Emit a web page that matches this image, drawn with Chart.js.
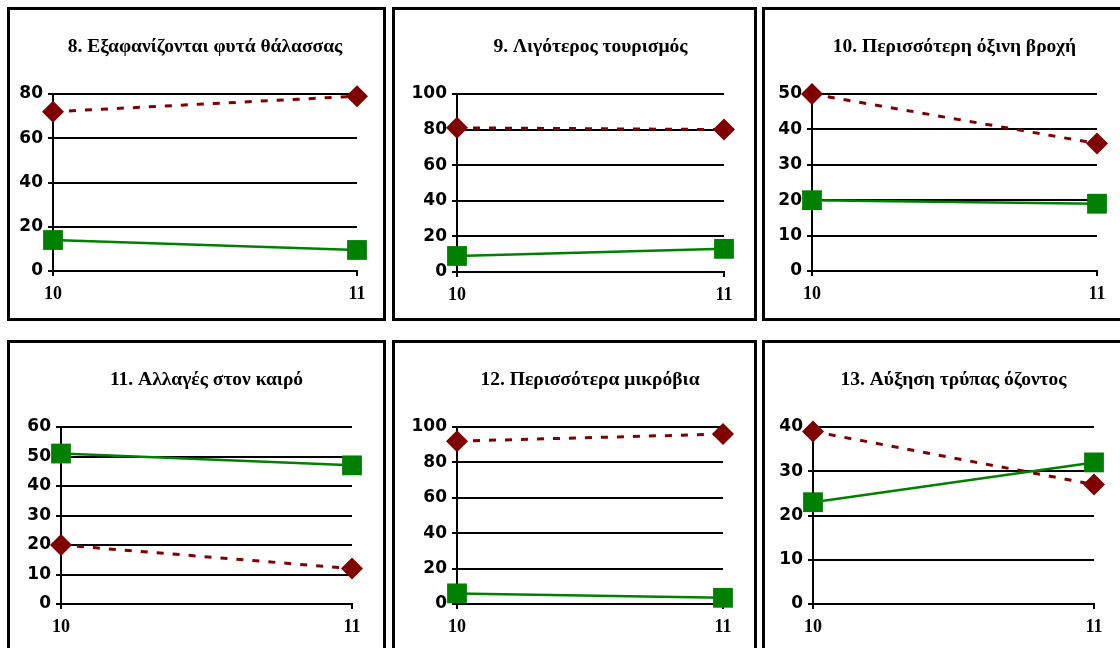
<!DOCTYPE html>
<html lang="el">

<head>
    <meta charset="UTF-8">
    <title>Περιβαλλοντικά προβλήματα</title>
    <script src="https://cdn.jsdelivr.net/npm/chart.js"></script>
    <style>
        html, body {
            margin: 0;
            padding: 0;
            background: #fff;
            width: 1120px;
            height: 648px;
            overflow: hidden;
        }

        .panel {
            position: absolute;
            box-sizing: border-box;
            border: 3px solid #000;
            background: #fff;
        }

        .panel canvas {
            position: absolute;
            left: 0;
            top: 0;
        }
    </style>
</head>

<body>
    <div id="charts"></div>
    <script>
        // categories on the x axis
        const categories = ['10', '11'];

        const titles = [
            '8. Εξαφανίζονται φυτά θάλασσας',
            '9. Λιγότερος τουρισμός',
            '10. Περισσότερη όξινη βροχή',
            '11. Αλλαγές στον καιρό',
            '12. Περισσότερα μικρόβια',
            '13. Αύξηση τρύπας όζοντος'
        ];

        // dashed red diamonds
        const redSeries = [
            [72, 79],
            [81, 80],
            [50, 36],
            [20, 12],
            [92, 96],
            [39, 27]
        ];

        // solid green squares
        const greenSeries = [
            [14, 9.5],
            [9, 13],
            [20, 19],
            [51, 47],
            [6, 3.5],
            [23, 32]
        ];

        // y axis ticks
        const yMax = [80, 100, 50, 60, 100, 40];
        const yStep = [20, 20, 10, 10, 20, 10];

        // page layout: panel box, plot area edges, title centre
        const panels = [
            { box: [7, 7, 386, 321], axisX: 53, rightX: 357, top: 94, bottom: 271, titleY: 47 },
            { box: [392, 7, 757, 321], axisX: 457, rightX: 724, top: 94, bottom: 272, titleY: 47 },
            { box: [762, 7, 1126, 321], axisX: 812, rightX: 1097, top: 94, bottom: 271, titleY: 47 },
            { box: [7, 340, 386, 656], axisX: 61, rightX: 352, top: 427, bottom: 604, titleY: 380 },
            { box: [392, 340, 757, 656], axisX: 457, rightX: 723, top: 427, bottom: 604, titleY: 380 },
            { box: [762, 340, 1126, 656], axisX: 813, rightX: 1094, top: 427, bottom: 604, titleY: 380 }
        ];

        const BORDER = 3;
        const PAD_LEFT = 2;
        const X_AXIS_H = 40;
        const TITLE_SIZE = 19.5;
        const TITLE_LH = TITLE_SIZE * 1.2;

        const red = '#800000';
        const green = '#008000';

        const holder = document.getElementById('charts');

        panels.forEach((p, i) => {
            const [l, t, r, b] = p.box;
            const div = document.createElement('div');
            div.className = 'panel';
            div.style.left = l + 'px';
            div.style.top = t + 'px';
            div.style.width = (r - l) + 'px';
            div.style.height = (b - t) + 'px';
            const canvas = document.createElement('canvas');
            const cw = r - l - 2 * BORDER;
            const ch = b - t - 2 * BORDER;
            canvas.width = cw;
            canvas.height = ch;
            canvas.style.width = cw + 'px';
            canvas.style.height = ch + 'px';
            div.appendChild(canvas);
            holder.appendChild(div);

            const cx = l + BORDER;
            const cy = t + BORDER;
            const yAxisW = p.axisX - cx - PAD_LEFT;
            const padTop = p.titleY - cy - TITLE_LH / 2;
            const titleGap = p.top - (cy + padTop + TITLE_LH);

            new Chart(canvas.getContext('2d'), {
                type: 'line',
                data: {
                    labels: categories,
                    datasets: [{
                        data: greenSeries[i],
                        borderColor: green,
                        backgroundColor: green,
                        borderWidth: 2.5,
                        pointStyle: 'rect',
                        pointRadius: 14,
                        pointBorderWidth: 0,
                        tension: 0,
                        clip: false
                    }, {
                        data: redSeries[i],
                        borderColor: red,
                        backgroundColor: red,
                        borderWidth: 3,
                        borderDash: [7, 9],
                        pointStyle: 'rectRot',
                        pointRadius: 11,
                        pointBorderWidth: 0,
                        tension: 0,
                        clip: false
                    }]
                },
                options: {
                    responsive: false,
                    animation: false,
                    layout: {
                        padding: {
                            left: PAD_LEFT,
                            right: (cx + cw) - p.rightX,
                            top: padTop,
                            bottom: (cy + ch) - p.bottom - X_AXIS_H
                        }
                    },
                    plugins: {
                        legend: { display: false },
                        tooltip: { enabled: false },
                        title: {
                            display: true,
                            text: titles[i],
                            fullSize: false,
                            color: '#000',
                            font: { family: '"Liberation Serif", "Times New Roman", serif', size: TITLE_SIZE, weight: 'bold', lineHeight: 1.2 },
                            padding: { top: 0, bottom: titleGap }
                        }
                    },
                    scales: {
                        x: {
                            type: 'category',
                            offset: false,
                            afterFit: (scale) => { scale.height = X_AXIS_H; },
                            border: { display: true, color: '#000', width: 2 },
                            grid: {
                                drawOnChartArea: false,
                                drawTicks: true,
                                tickLength: 5,
                                color: '#000',
                                lineWidth: 2,
                                offset: false
                            },
                            ticks: {
                                color: '#000',
                                padding: 8,
                                maxRotation: 0,
                                font: { family: '"Liberation Serif", "Times New Roman", serif', size: 18, weight: 'bold' }
                            }
                        },
                        y: {
                            min: 0,
                            max: yMax[i],
                            afterFit: (scale) => { scale.width = yAxisW; },
                            border: { display: true, color: '#000', width: 2 },
                            grid: {
                                color: '#000',
                                lineWidth: 2,
                                drawTicks: true,
                                tickLength: 5
                            },
                            ticks: {
                                stepSize: yStep[i],
                                color: '#000',
                                padding: 5,
                                font: { family: '"DejaVu Sans", sans-serif', size: 17, weight: 'bold' }
                            }
                        }
                    }
                }
            });
        });
    </script>
</body>

</html>
